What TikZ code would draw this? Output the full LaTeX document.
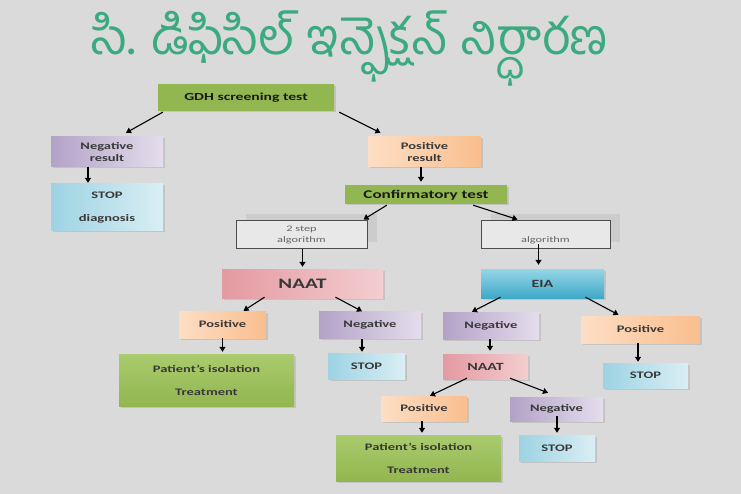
\documentclass[tikz,border=0pt]{standalone}
\usepackage{fontspec}
\newfontfamily\telugufont[Script=Telugu]{Hind Guntur}
\newfontfamily\boxfont{Carlito}[FakeStretch=1.45]
\usetikzlibrary{arrows.meta,positioning,calc,shadows}
\definecolor{bgc}{RGB}{218,218,218}
\definecolor{ttl}{RGB}{60,170,128}
\definecolor{grnA}{RGB}{146,182,80}
\definecolor{grnB}{RGB}{170,203,110}
\definecolor{purA}{RGB}{179,162,199}
\definecolor{purB}{RGB}{228,221,236}
\definecolor{orgA}{RGB}{249,190,142}
\definecolor{orgB}{RGB}{253,222,196}
\definecolor{bluA}{RGB}{157,211,227}
\definecolor{bluB}{RGB}{218,238,244}
\definecolor{pnkA}{RGB}{227,154,161}
\definecolor{pnkB}{RGB}{243,205,208}
\definecolor{cynA}{RGB}{150,214,232}
\definecolor{cynB}{RGB}{63,169,200}

\begin{document}
\begin{tikzpicture}[x=1pt,y=-1pt,
    box/.style={inner sep=0pt, align=center, text=black!78,
        font=\boxfont\bfseries\fontsize{10}{12}\selectfont,
        drop shadow={shadow xshift=1.5pt, shadow yshift=-1.5pt, opacity=.25}},
    grn/.style={box, top color=grnB, bottom color=grnA},
    pur/.style={box, left color=purA, right color=purB},
    org/.style={box, left color=orgB, right color=orgA},
    blu/.style={box, left color=bluA, right color=bluB},
    pnk/.style={box, left color=pnkA, right color=pnkB},
    cyn/.style={box, top color=cynA, bottom color=cynB},
    alg/.style={inner sep=0pt, align=center, fill=black!9, draw=black!70, line width=1pt,
        text=black!60, font=\boxfont\fontsize{8.5}{11}\selectfont,
        general shadow={fill=black!20, shadow xshift=10pt, shadow yshift=7pt}},
    arr/.style={-{Triangle[length=5pt,width=6pt]}, line width=1.1pt}
]
\fill[bgc] (0,0) rectangle (741,494);

\node[inner sep=0pt, text=ttl, font=\telugufont\fontsize{50}{60}\selectfont] (title) at (350,48) {సి. డిఫిసిల్ ఇన్ఫెక్షన్ నిర్ధారణ};

\node[grn, top color=grnA, minimum width=176, minimum height=26, text=black!90,
    font=\boxfont\bfseries\fontsize{10.8}{13}\selectfont] (gdh) at (246,98) {GDH screening test};
\node[pur, minimum width=112, minimum height=30] (negres) at (107,152) {Negative\\result};
\node[org, minimum width=113, minimum height=30] (posres) at (424.5,152) {Positive\\result};
\node[blu, minimum width=112, minimum height=47] (stop1) at (107,207.5) {STOP\\[11pt]diagnosis};
\node[grn, top color=grnA, minimum width=162, minimum height=18, text=black!90,
    font=\boxfont\bfseries\fontsize{11.8}{13}\selectfont] (conf) at (426,195) {Confirmatory test};
\node[alg, minimum width=131, minimum height=28] (algL) at (301.5,235) {2 step\\algorithm};
\node[alg, minimum width=129, minimum height=28] (algR) at (545.5,235) {\phantom{2 step}\\algorithm};
\node[pnk, minimum width=161, minimum height=29,
    font=\boxfont\bfseries\fontsize{14.5}{16}\selectfont] (naatL) at (302.5,283.5) {NAAT};
\node[cyn, minimum width=123, minimum height=29,
    font=\boxfont\bfseries\fontsize{11}{13}\selectfont] (eia) at (542.5,283.5) {EIA};
\node[org, minimum width=87, minimum height=27] (posL) at (222.5,324.5) {Positive};
\node[pur, minimum width=102, minimum height=27] (negL) at (370,325) {Negative};
\node[pur, minimum width=96, minimum height=27] (negM) at (491,325.5) {Negative};
\node[org, minimum width=119, minimum height=27] (posR) at (640.5,329.5) {Positive};
\node[grn, minimum width=175, minimum height=52] (patL) at (206.5,380) {Patient’s isolation\\[11pt]Treatment};
\node[blu, minimum width=77, minimum height=26] (stopL) at (366.5,366) {STOP};
\node[pnk, minimum width=85, minimum height=25,
    font=\boxfont\bfseries\fontsize{11}{13}\selectfont] (naatM) at (485.5,366.5) {NAAT};
\node[blu, minimum width=85, minimum height=25] (stopR) at (645.5,375.5) {STOP};
\node[org, minimum width=86, minimum height=25] (posB) at (424,408.5) {Positive};
\node[pur, minimum width=93, minimum height=24] (negB) at (556.5,409) {Negative};
\node[grn, minimum width=165, minimum height=46] (patB) at (418.5,458) {Patient’s isolation\\[11pt]Treatment};
\node[blu, minimum width=76, minimum height=26] (stopB) at (557,448) {STOP};

\draw[arr] ($(gdh.south west)+(5,1)$) -- ($(negres.north)+(19,-4)$);
\draw[arr] ($(gdh.south east)+(5,1)$) -- ($(posres.north)+(-44,-4)$);
\draw[arr] ($(negres.south)+(-19,0)$) -- ($(stop1.north)+(-19,-1)$);
\draw[arr] ($(posres.south)+(-3.5,0)$) -- ($(conf.north)+(-5,-4)$);
\draw[arr] ($(conf.south west)+(42,1)$) -- ($(algL.north east)+(-4,-1)$);
\draw[arr] ($(conf.south east)+(-34,1)$) -- ($(algR.north)+(-28,-1)$);
\draw[arr] ($(algL.south)+(1,0)$) -- ($(naatL.north)+(0,-2)$);
\draw[arr] ($(algR.south)+(-7,-5)$) -- ($(eia.north)+(-4,-4)$);
\draw[arr] ($(naatL.south)+(-38,-1)$) -- ($(posL.north)+(21,0)$);
\draw[arr] ($(naatL.south)+(33,-1)$) -- ($(negL.north)+(-8,0)$);
\draw[arr] ($(eia.south)+(-42,-1)$) -- ($(negM.north)+(-19,0)$);
\draw[arr] ($(eia.south)+(43,-1)$) -- ($(posR.north)+(-22,-1)$);
\draw[arr] (posL.south) -- ($(patL.north)+(16,-2)$);
\draw[arr] ($(negL.south)+(-8,0)$) -- ($(stopL.north)+(-4.5,-1)$);
\draw[arr] ($(negM.south)+(-1,0)$) -- ($(naatM.north)+(4.5,-3)$);
\draw[arr] ($(posR.south)+(-2.5,0)$) -- ($(stopR.north)+(-7.5,-1)$);
\draw[arr] ($(naatM.south)+(-18.5,-1)$) -- ($(posB.north)+(6,0)$);
\draw[arr] ($(naatM.south)+(24.5,-1)$) -- ($(negB.north)+(-8.5,-4)$);
\draw[arr] ($(posB.south)+(-2,0)$) -- ($(patB.north)+(3.5,-2)$);
\draw[arr] ($(negB.south)+(0.5,-5)$) -- ($(stopB.north)+(0,-2)$);
\end{tikzpicture}
\end{document}
